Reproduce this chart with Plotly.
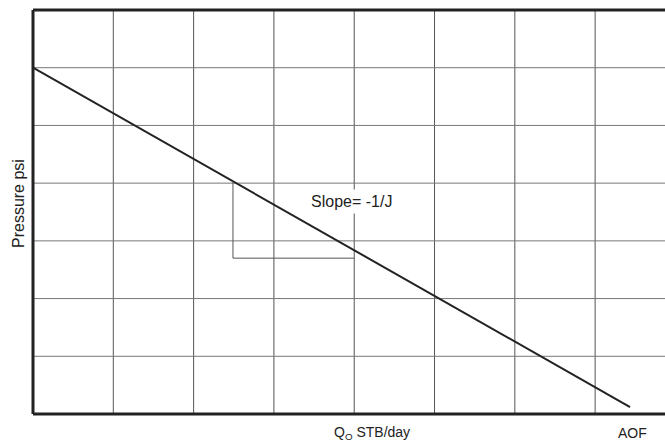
import plotly.graph_objects as go

# Inflow performance line: pressure vs. rate, straight-line IPR
rate = [0.0, 7.435]
pressure = [6.0, 0.12]

# Slope construction legs (rise / run)
tri_x = [2.49, 2.49, 4.0]
tri_y = [4.03, 2.70, 2.70]

x_grid = [1, 2, 3, 4, 5, 6, 7]
y_grid = [1, 2, 3, 4, 5, 6]

X_MAX = 7.87
Y_MAX = 7.0

fig = go.Figure()

fig.add_trace(go.Scatter(x=rate, y=pressure, mode="lines",
                         line=dict(color="#222222", width=2), hoverinfo="skip"))
fig.add_trace(go.Scatter(x=tri_x, y=tri_y, mode="lines",
                         line=dict(color="#555555", width=1), hoverinfo="skip"))

# grid lines
for gx in x_grid:
    fig.add_shape(type="line", x0=gx, x1=gx, y0=0, y1=Y_MAX, xref="x", yref="y",
                  line=dict(color="#555555", width=1), layer="below")
for gy in y_grid:
    fig.add_shape(type="line", x0=0, x1=X_MAX, y0=gy, y1=gy, xref="x", yref="y",
                  line=dict(color="#777777", width=1), layer="below")

# frame: left, top, bottom (paper coordinates so the stroke is not clipped)
for x0, x1, y0, y1 in [(0, 0, 0, 1), (0, 1, 1, 1), (0, 1, 0, 0)]:
    fig.add_shape(type="line", x0=x0, x1=x1, y0=y0, y1=y1,
                  xref="paper", yref="paper",
                  line=dict(color="#222222", width=3))

FAMILY = "Liberation Sans, Arial, sans-serif"


def txt(size):
    return dict(family=FAMILY, size=size, color="#222222")


fig.add_annotation(x=3.96, y=3.69, xref="x", yref="y", text="Slope= -1/J",
                   showarrow=False, bgcolor="white", font=txt(16), borderpad=3,
                   xanchor="center", yanchor="middle")

px_w = 632.0
px_h = 404.0
fig.add_annotation(x=(372 - 33) / px_w, y=-(433 - 414) / px_h,
                   xref="paper", yref="paper",
                   text="Q<sub>O</sub> STB/day", showarrow=False, font=txt(14),
                   xanchor="center", yanchor="middle")
fig.add_annotation(x=(632 - 33) / px_w, y=-(433 - 414) / px_h,
                   xref="paper", yref="paper",
                   text="AOF", showarrow=False, font=txt(14),
                   xanchor="center", yanchor="middle")
fig.add_annotation(x=-(33 - 18) / px_w, y=(414 - 204) / px_h,
                   xref="paper", yref="paper", text="Pressure psi",
                   textangle=-90, showarrow=False, font=txt(16),
                   xanchor="center", yanchor="middle")

fig.update_xaxes(range=[0, X_MAX], showgrid=False, zeroline=False,
                 showticklabels=False, showline=False, fixedrange=True)
fig.update_yaxes(range=[0, Y_MAX], showgrid=False, zeroline=False,
                 showticklabels=False, showline=False, fixedrange=True)

fig.update_layout(width=665, height=442, showlegend=False,
                  margin=dict(l=33, r=0, t=10, b=28),
                  paper_bgcolor="white", plot_bgcolor="white")

fig.write_html("out.html")
